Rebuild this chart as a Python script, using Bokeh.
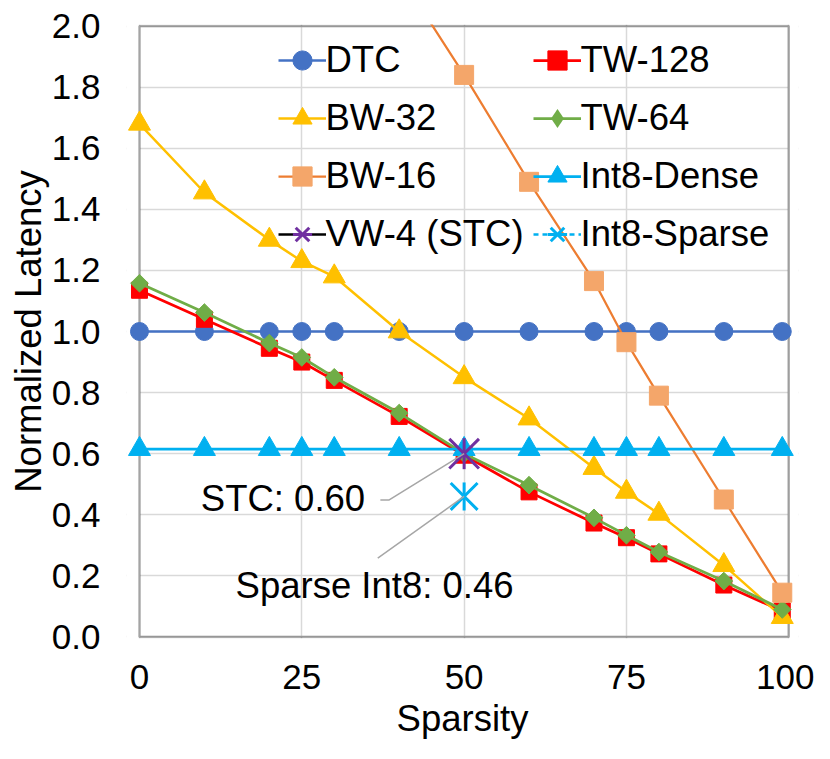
from bokeh.plotting import figure
from bokeh.models import (Legend, LegendItem, FixedTicker, NumeralTickFormatter,
                          Label, Range1d, BoxAnnotation)
from bokeh.embed import file_html
from bokeh.resources import INLINE
import math

# ---------------- data ----------------
sparsity = [0, 10, 20, 25, 30, 40, 50, 60, 70, 75, 80, 90, 99]
dtc = [1.0, 1.0, 1.0, 1.0, 1.0, 1.0, 1.0, 1.0, 1.0, 1.0, 1.0, 1.0, 1.0]
bw32 = [1.68, 1.455, 1.30, 1.23, 1.18, 1.00, 0.85, 0.715, 0.553, 0.475, 0.403, 0.235, 0.065]
bw16_x = [40, 50, 60, 70, 75, 80, 90, 99]
bw16 = [2.17, 1.84, 1.49, 1.165, 0.965, 0.79, 0.45, 0.145]
tw128 = [1.135, 1.04, 0.945, 0.90, 0.84, 0.722, 0.595, 0.475, 0.373, 0.325, 0.272, 0.17, 0.085]
tw64 = [1.158, 1.062, 0.962, 0.915, 0.85, 0.733, 0.60, 0.497, 0.39, 0.333, 0.278, 0.183, 0.09]
int8_dense = [0.615, 0.615, 0.615, 0.615, 0.615, 0.615, 0.615, 0.615, 0.615, 0.615, 0.615, 0.615, 0.615]
stc_x = [50]
stc_y = [0.60]
int8_sparse_x = [50]
int8_sparse_y = [0.46]

x_ticks = [0, 25, 50, 75, 100]
y_ticks = [0.0, 0.2, 0.4, 0.6, 0.8, 1.0, 1.2, 1.4, 1.6, 1.8, 2.0]

FONT = "Liberation Sans"
FS_TICK = "35px"
FS = "36.5px"

p = figure(width=814, height=743, output_backend="svg", toolbar_location=None,
           x_range=Range1d(-2, 101.5), y_range=Range1d(-0.005, 2.005),
           min_border_left=126, min_border_right=16, min_border_top=24, min_border_bottom=105)
p.outline_line_color = None
p.background_fill_color = "white"
p.border_fill_color = "white"

# grid
p.xgrid.ticker = FixedTicker(ticks=x_ticks)
p.ygrid.ticker = FixedTicker(ticks=y_ticks)
for g in (p.xgrid, p.ygrid):
    g.grid_line_color = "#D9D9D9"
    g.grid_line_width = 1.5

# masks to hide the grid outside the plotted box, then the box itself
p.add_layout(BoxAnnotation(right=x_ticks[0], fill_color="white", fill_alpha=1,
                           line_alpha=0, level="underlay"))
p.add_layout(BoxAnnotation(left=x_ticks[-1], fill_color="white", fill_alpha=1,
                           line_alpha=0, level="underlay"))
p.add_layout(BoxAnnotation(left=x_ticks[0], right=x_ticks[-1], bottom=y_ticks[0], top=y_ticks[-1],
                           fill_alpha=0, line_color="black", line_width=2.5, level="underlay"))

# axes
p.xaxis.ticker = FixedTicker(ticks=x_ticks)
p.yaxis.ticker = FixedTicker(ticks=y_ticks)
p.yaxis.formatter = NumeralTickFormatter(format="0.0")
for ax in (p.xaxis, p.yaxis):
    ax.axis_line_color = None
    ax.major_tick_line_color = None
    ax.minor_tick_line_color = None
    ax.major_tick_out = 0
    ax.major_tick_in = 0
    ax.minor_tick_out = 0
    ax.major_label_text_font = FONT
    ax.major_label_text_font_size = FS_TICK
    ax.major_label_text_color = "black"
    ax.axis_label_text_font = FONT
    ax.axis_label_text_font_size = FS
    ax.axis_label_text_font_style = "normal"
    ax.axis_label_text_color = "black"
p.xaxis.axis_label = "Sparsity"
p.yaxis.axis_label = "Normalized Latency"
p.xaxis.major_label_standoff = 26
p.xaxis.axis_label_standoff = 6
p.yaxis.major_label_standoff = 26
p.yaxis.axis_label_standoff = 0

# ---------------- series ----------------
c_dtc = "#4472C4"
c_bw32 = "#FFC000"
c_bw16_l = "#ED7D31"
c_bw16_m = "#F4A66A"
c_tw128 = "#FF0000"
c_tw64 = "#70AD47"
c_i8 = "#00B0F0"
c_stc = "#7030A0"

dtc_l = p.line(sparsity, dtc, line_color=c_dtc, line_width=2.5)
dtc_m = p.scatter(sparsity, dtc, marker="circle", size=18, fill_color=c_dtc, line_color=c_dtc)

tw128_l = p.line(sparsity, tw128, line_color=c_tw128, line_width=2.75)
tw128_m = p.scatter(sparsity, tw128, marker="square", size=16, fill_color=c_tw128, line_color=c_tw128)

bw32_l = p.line(sparsity, bw32, line_color=c_bw32, line_width=2.5)
bw32_m = p.scatter(sparsity, bw32, marker="triangle", size=22, fill_color=c_bw32, line_color=c_bw32)

tw64_l = p.line(sparsity, tw64, line_color=c_tw64, line_width=2.75)
tw64_m = p.scatter(sparsity, tw64, marker="square", angle=math.pi / 4, size=12.5,
                   fill_color=c_tw64, line_color=c_tw64)
# diamond key for the legend (zero size in the plot, the legend sizes its own glyph)
tw64_key = p.scatter(sparsity, tw64, marker="diamond", size=0, fill_color=c_tw64,
                     line_color=c_tw64, line_width=0)

bw16_l = p.line(bw16_x, bw16, line_color=c_bw16_l, line_width=2.25)
bw16_m = p.scatter(bw16_x, bw16, marker="square", size=19, fill_color=c_bw16_m, line_color=c_bw16_m)

i8d_l = p.line(sparsity, int8_dense, line_color=c_i8, line_width=2.75)
i8d_m = p.scatter(sparsity, int8_dense, marker="triangle", size=22, fill_color=c_i8, line_color=c_i8)

stc_l = p.line(stc_x, stc_y, line_color="black", line_width=2.5)
stc_m1 = p.scatter(stc_x, stc_y, marker="x", size=42, line_color=c_stc, line_width=3)
stc_m2 = p.scatter(stc_x, stc_y, marker="dash", angle=math.pi / 2, size=31, line_color=c_stc, line_width=3)

i8s_l = p.line(int8_sparse_x, int8_sparse_y, line_color=c_i8, line_width=2.5, line_dash="5 4")
i8s_m1 = p.scatter(int8_sparse_x, int8_sparse_y, marker="x", size=38, line_color=c_i8, line_width=3)
i8s_m2 = p.scatter(int8_sparse_x, int8_sparse_y, marker="dash", angle=math.pi / 2, size=28,
                   line_color=c_i8, line_width=3)

# ---------------- annotations ----------------
stc_label_x, stc_label_y = 9.45, 0.454
sp_label_x, sp_label_y = 14.8, 0.167
p.add_layout(Label(x=stc_label_x, y=stc_label_y, text=f"STC: {stc_y[0]:.2f}", text_color="black",
                   text_font=FONT, text_font_size=FS, text_baseline="middle", text_align="left"))
p.add_layout(Label(x=sp_label_x, y=sp_label_y, text=f"Sparse Int8: {int8_sparse_y[0]:.2f}",
                   text_color="black",
                   text_font=FONT, text_font_size=FS, text_baseline="middle", text_align="left"))
p.line([37.1, 38.4, stc_x[0]], [0.448, 0.448, stc_y[0]], line_color="#A6A6A6", line_width=1.5)
p.line([36.7, int8_sparse_x[0]], [0.258, int8_sparse_y[0]], line_color="#A6A6A6", line_width=1.5)

# ---------------- legends ----------------
def make_legend(items, loc):
    lg = Legend(items=items, location=loc, orientation="vertical",
                padding=0, margin=0, spacing=8,
                glyph_width=48, glyph_height=48, label_height=50, label_standoff=0,
                label_text_font=FONT, label_text_font_size=FS, label_text_color="black",
                border_line_alpha=0, background_fill_alpha=0)
    return lg

leg1 = make_legend([
    LegendItem(label="DTC", renderers=[dtc_l, dtc_m]),
    LegendItem(label="BW-32", renderers=[bw32_l, bw32_m]),
    LegendItem(label="BW-16", renderers=[bw16_l, bw16_m]),
    LegendItem(label="VW-4 (STC)", renderers=[stc_l, stc_m1, stc_m2]),
], (151.5, 379.5))
leg2 = make_legend([
    LegendItem(label="TW-128", renderers=[tw128_l, tw128_m]),
    LegendItem(label="TW-64", renderers=[tw64_l, tw64_key]),
    LegendItem(label="Int8-Dense", renderers=[i8d_l, i8d_m]),
    LegendItem(label="Int8-Sparse", renderers=[i8s_l, i8s_m1, i8s_m2]),
], (406.5, 379.5))
p.add_layout(leg1)
p.add_layout(leg2)

open("out.html", "w").write(file_html(p, INLINE))
